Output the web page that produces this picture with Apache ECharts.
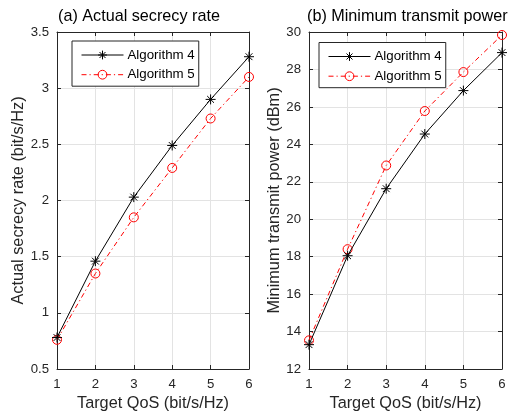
<!DOCTYPE html>
<html>
<head>
<meta charset="utf-8">
<script src="https://cdn.jsdelivr.net/npm/echarts@6/dist/echarts.min.js"></script>
<style>
  html, body { margin: 0; padding: 0; background: #fff; }
  #chart { width: 509px; height: 414px; }
</style>
</head>
<body>
<div id="chart"></div>
<script>
// Target QoS values (bit/s/Hz)
const targetQoS = [1, 2, 3, 4, 5, 6];

// (a) Actual secrecy rate (bit/s/Hz)
const rateAlg4 = [0.78, 1.46, 2.03, 2.49, 2.90, 3.28];
const rateAlg5 = [0.76, 1.35, 1.85, 2.29, 2.73, 3.10];

// (b) Minimum transmit power (dBm)
const powerAlg4 = [13.3, 18.05, 21.63, 24.55, 26.87, 28.9];
const powerAlg5 = [13.53, 18.4, 22.87, 25.78, 27.86, 29.84];

const seriesNames = ['Algorithm 4', 'Algorithm 5'];
const panelTitles = ['(a) Actual secrecy rate', '(b) Minimum transmit power'];
const xName = 'Target QoS (bit/s/Hz)';
const yNames = ['Actual secrecy rate (bit/s/Hz)', 'Minimum transmit power (dBm)'];

const FONT = 'Liberation Sans, Arial, Helvetica, sans-serif';
const AXIS_COLOR = '#262626';
const GRID_COLOR = '#e3e3e3';

// asterisk marker drawn as stroked segments
const STAR = 'path://M5 0 L5 10 M0 5 L10 5 M1.6 1.6 L8.4 8.4 M8.4 1.6 L1.6 8.4';

const pairs = (xs, ys) => xs.map((x, i) => [x, ys[i]]);

const chart = echarts.init(document.getElementById('chart'), null, { renderer: 'canvas' });

function xAxisFor(gridIndex, main) {
  return {
    type: 'value', gridIndex, min: 1, max: 6, interval: 1,
    position: main ? 'bottom' : 'top',
    name: main ? xName : '',
    nameLocation: 'middle', nameGap: 27,
    nameTextStyle: { fontFamily: FONT, fontSize: 16.3, color: AXIS_COLOR },
    axisLine: { show: true, onZero: false, lineStyle: { color: AXIS_COLOR, width: 1 } },
    axisTick: { show: true, inside: true, length: 4, lineStyle: { color: AXIS_COLOR } },
    axisLabel: { show: main, margin: 9, fontFamily: FONT, fontSize: 13.2, color: AXIS_COLOR },
    splitLine: { show: main, lineStyle: { color: GRID_COLOR, width: 1 } }
  };
}

function yAxisFor(gridIndex, main, min, max, interval, nameGap) {
  return {
    type: 'value', gridIndex, min, max, interval,
    position: main ? 'left' : 'right',
    name: main ? yNames[gridIndex] : '',
    nameLocation: 'middle', nameGap,
    nameTextStyle: { fontFamily: FONT, fontSize: 16.3, color: AXIS_COLOR },
    axisLine: { show: true, onZero: false, lineStyle: { color: AXIS_COLOR, width: 1 } },
    axisTick: { show: true, inside: true, length: 4, lineStyle: { color: AXIS_COLOR } },
    axisLabel: { show: main, margin: 8, fontFamily: FONT, fontSize: 13.2, color: AXIS_COLOR },
    splitLine: { show: main, lineStyle: { color: GRID_COLOR, width: 1 } }
  };
}

function algSeries(name, data, axisIndex) {
  const isStar = name === seriesNames[0];
  return {
    name, type: 'line', data,
    xAxisIndex: axisIndex, yAxisIndex: axisIndex,
    symbol: isStar ? STAR : 'circle',
    symbolSize: isStar ? 10 : 9,
    showAllSymbol: true,
    clip: false,
    lineStyle: isStar
      ? { color: '#000', width: 1, type: 'solid' }
      : { color: '#ff0000', width: 1, type: [5, 3, 1.2, 3] },
    itemStyle: isStar
      ? { color: 'rgba(0,0,0,0)', borderColor: '#000', borderWidth: 1 }
      : { color: 'rgba(0,0,0,0)', borderColor: '#ff0000', borderWidth: 1 },
    emphasis: { disabled: true },
    z: isStar ? 3 : 2
  };
}

function legendAt(left, top) {
  return {
    data: seriesNames,
    orient: 'vertical', left, top,
    itemWidth: 42, itemHeight: 11, itemGap: 6.7,
    padding: [7.5, 4, 5, 9],
    backgroundColor: '#fff',
    borderColor: AXIS_COLOR, borderWidth: 1, borderRadius: 0,
    selectedMode: false,
    lineStyle: { width: 1 },
    itemStyle: { borderWidth: 1 },
    textStyle: { fontFamily: FONT, fontSize: 13.3, color: '#000', padding: [0, 0, 0, -1] }
  };
}

const titleStyle = { fontFamily: FONT, fontSize: 16.2, fontWeight: 'normal', color: '#000' };

chart.setOption({
  animation: false,
  backgroundColor: '#fff',
  title: [
    { text: panelTitles[0], left: 58, top: 9, padding: 0, textStyle: titleStyle },
    { text: panelTitles[1], left: 307, top: 9, padding: 0, textStyle: titleStyle }
  ],
  grid: [
    { left: 57, top: 32, width: 192, height: 337, outerBoundsMode: 'none' },
    { left: 309, top: 32, width: 193, height: 337, outerBoundsMode: 'none' }
  ],
  xAxis: [xAxisFor(0, true), xAxisFor(1, true), xAxisFor(0, false), xAxisFor(1, false)],
  yAxis: [
    yAxisFor(0, true, 0.5, 3.5, 0.5, 30),
    yAxisFor(1, true, 12, 30, 2, 26),
    yAxisFor(0, false, 0.5, 3.5, 0.5, 0),
    yAxisFor(1, false, 12, 30, 2, 0)
  ],
  legend: [legendAt(72, 41), legendAt(319, 42.5)],
  series: [
    algSeries(seriesNames[0], pairs(targetQoS, rateAlg4), 0),
    algSeries(seriesNames[1], pairs(targetQoS, rateAlg5), 0),
    algSeries(seriesNames[0], pairs(targetQoS, powerAlg4), 1),
    algSeries(seriesNames[1], pairs(targetQoS, powerAlg5), 1)
  ]
});
</script>
</body>
</html>
